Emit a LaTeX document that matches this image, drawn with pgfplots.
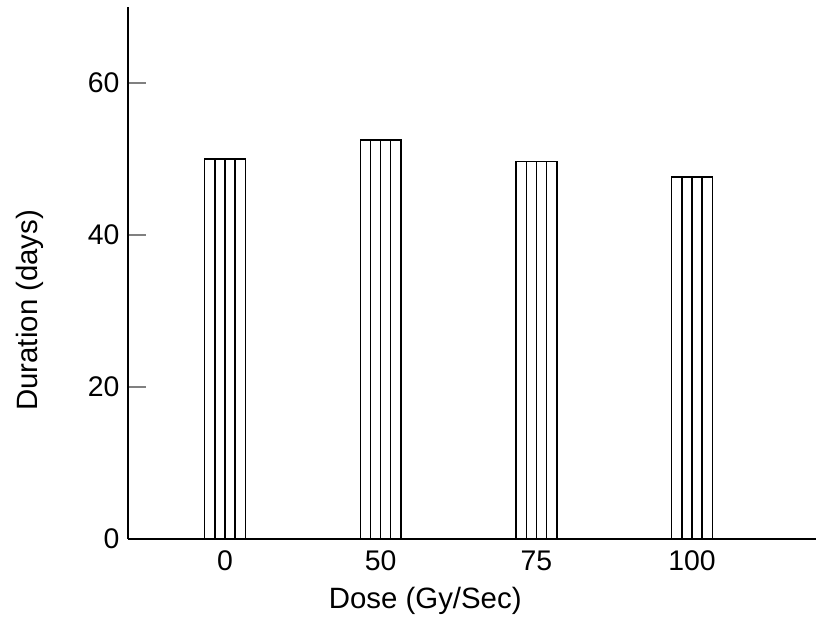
\documentclass[border=0pt]{standalone}
\usepackage{pgfplots}
\usepackage{pgfplotstable}
\pgfplotsset{compat=1.18}
\usepackage{fontspec}
\setmainfont{Liberation Sans}

% Duration of the stage at each dose
\pgfplotstableread{
x y
0 50.0
1 52.5
2 49.7
3 47.6
}\durations

\begin{document}
\begin{tikzpicture}
\begin{axis}[
  scale only axis, width=688bp, height=532bp,
  xmin=-0.623, xmax=3.796, ymin=0, ymax=70,
  axis lines*=left,
  axis line style={line width=1.4bp},
  xtick={0,1,2,3},
  xticklabels={\textrm{0},\textrm{50},\textrm{75},\textrm{100}},
  xtick style={draw=none},
  ytick={0,20,40,60},
  tick align=inside, major tick length=18bp,
  ytick style={line width=1.4bp},
  /pgf/number format/assume math mode=true,
  tick label style={font=\fontsize{28.5}{32}\selectfont},
  xticklabel style={yshift=-8bp},
  yticklabel style={xshift=-5bp},
  label style={font=\fontsize{29.5}{34}\selectfont},
  xlabel={Dose (Gy/Sec)}, ylabel={Duration (days)},
  xlabel style={at={(axis description cs:0.432,-0.117)}, anchor=center},
  ylabel style={at={(axis description cs:-0.142,0.43)}, anchor=center},
  clip=false,
]
% outlined bars
\addplot[ybar, bar width=0.262, draw=black, fill=white, line width=1.5bp]
  table[x=x, y=y]{\durations};
% vertical hatching inside each bar
\addplot[ycomb, black, line width=1.4bp] table[x expr=\thisrow{x}-0.064, y=y]{\durations};
\addplot[ycomb, black, line width=1.4bp] table[x expr=\thisrow{x}, y=y]{\durations};
\addplot[ycomb, black, line width=1.4bp] table[x expr=\thisrow{x}+0.064, y=y]{\durations};
\end{axis}
\pgfresetboundingbox
\path ([shift={(-128bp,-82bp)}]current axis.south west) rectangle ++(816bp,621bp);
\end{tikzpicture}
\end{document}
